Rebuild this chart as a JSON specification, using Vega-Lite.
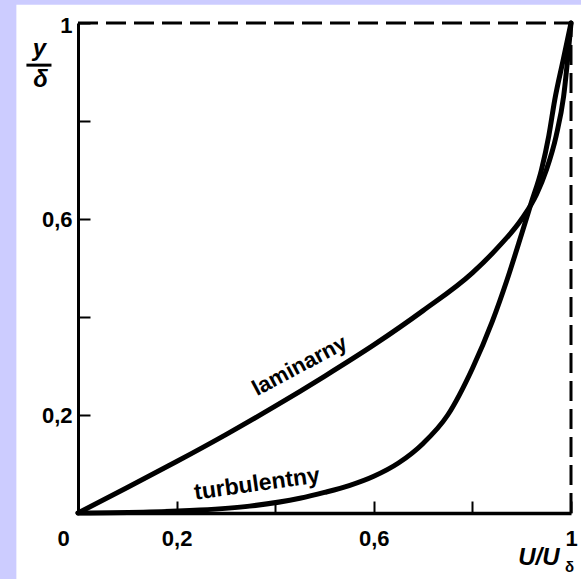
{
  "$schema": "https://vega.github.io/schema/vega-lite/v6.json",
  "width": 493,
  "height": 490,
  "autosize": {"type": "none"},
  "padding": {"left": 78, "top": 23, "right": 10, "bottom": 66},
  "background": "#ccccff",
  "view": {"stroke": null},
  "config": {"text": {"font": "Liberation Sans", "fontWeight": "bold", "color": "#000"}},
  "encoding": {
    "x": {
      "field": "u", "type": "quantitative",
      "scale": {"domain": [0, 1], "nice": false, "zero": false},
      "axis": {
        "title": null, "grid": false, "zindex": 1,
        "values": [0, 0.2, 0.4, 0.6, 0.8, 1],
        "format": ".1~f",
        "labelExpr": "datum.value == 0.4 || datum.value == 0.8 ? '' : replace(datum.label, '.', ',')",
        "labelOffset": {"condition": {"test": "datum.value == 0", "value": -15}, "value": 0},
        "tickSize": -12, "tickWidth": 2, "tickColor": "#000",
        "domainWidth": 3.5, "domainColor": "#000",
        "labelFont": "Liberation Sans", "labelFontWeight": "bold", "labelFontSize": 22,
        "labelColor": "#000", "labelPadding": 27, "labelFlush": false, "labelOverlap": false
      }
    },
    "y": {
      "field": "y", "type": "quantitative",
      "scale": {"domain": [0, 1], "nice": false, "zero": false},
      "axis": {
        "title": null, "grid": false, "zindex": 1,
        "values": [0, 0.2, 0.4, 0.6, 0.8, 1],
        "format": ".1~f",
        "labelExpr": "datum.value == 0.2 || datum.value == 0.6 || datum.value == 1 ? replace(datum.label, '.', ',') : ''",
        "labelOffset": {"condition": {"test": "datum.value == 1", "value": 2}, "value": 0},
        "tickSize": -12, "tickWidth": 2, "tickColor": "#000",
        "domainWidth": 3, "domainColor": "#000",
        "labelFont": "Liberation Sans", "labelFontWeight": "bold", "labelFontSize": 22,
        "labelColor": "#000", "labelPadding": 18, "labelFlush": false, "labelOverlap": false
      }
    }
  },
  "layer": [
    {
      "data": {"values": [{"u": -0.125, "y": -0.135, "u2": 1.021, "y2": 1.037}]},
      "mark": {"type": "rect", "fill": "#ffffff", "stroke": null},
      "encoding": {"x2": {"field": "u2"}, "y2": {"field": "y2"}}
    },
    {
      "data": {"values": [{"u": 0, "y": 1, "u2": 1, "y2": 1}, {"u": 1, "y": 0, "u2": 1, "y2": 1}]},
      "mark": {"type": "rule", "color": "#000", "strokeWidth": 3, "strokeDash": [20, 8]},
      "encoding": {"x2": {"field": "u2"}, "y2": {"field": "y2"}}
    },
    {
      "data": {"values": [
        {"series": "laminarny", "u": 0, "y": 0},
        {"series": "laminarny", "u": 0.1, "y": 0.052},
        {"series": "laminarny", "u": 0.2, "y": 0.105},
        {"series": "laminarny", "u": 0.3, "y": 0.16},
        {"series": "laminarny", "u": 0.4, "y": 0.218},
        {"series": "laminarny", "u": 0.5, "y": 0.279},
        {"series": "laminarny", "u": 0.6, "y": 0.343},
        {"series": "laminarny", "u": 0.7, "y": 0.413},
        {"series": "laminarny", "u": 0.8, "y": 0.49},
        {"series": "laminarny", "u": 0.85, "y": 0.54},
        {"series": "laminarny", "u": 0.9, "y": 0.6},
        {"series": "laminarny", "u": 0.93, "y": 0.65},
        {"series": "laminarny", "u": 0.95, "y": 0.7},
        {"series": "laminarny", "u": 0.97, "y": 0.77},
        {"series": "laminarny", "u": 0.985, "y": 0.85},
        {"series": "laminarny", "u": 1, "y": 1},
        {"series": "turbulentny", "u": 0, "y": 0},
        {"series": "turbulentny", "u": 0.145, "y": 0.002},
        {"series": "turbulentny", "u": 0.247, "y": 0.006},
        {"series": "turbulentny", "u": 0.348, "y": 0.014},
        {"series": "turbulentny", "u": 0.45, "y": 0.03},
        {"series": "turbulentny", "u": 0.5, "y": 0.042},
        {"series": "turbulentny", "u": 0.55, "y": 0.056},
        {"series": "turbulentny", "u": 0.6, "y": 0.075},
        {"series": "turbulentny", "u": 0.65, "y": 0.102},
        {"series": "turbulentny", "u": 0.7, "y": 0.142},
        {"series": "turbulentny", "u": 0.75, "y": 0.2},
        {"series": "turbulentny", "u": 0.8, "y": 0.295},
        {"series": "turbulentny", "u": 0.84, "y": 0.39},
        {"series": "turbulentny", "u": 0.87, "y": 0.475},
        {"series": "turbulentny", "u": 0.9, "y": 0.57},
        {"series": "turbulentny", "u": 0.92, "y": 0.635},
        {"series": "turbulentny", "u": 0.94, "y": 0.7},
        {"series": "turbulentny", "u": 0.955, "y": 0.77},
        {"series": "turbulentny", "u": 0.967, "y": 0.843},
        {"series": "turbulentny", "u": 0.984, "y": 0.924},
        {"series": "turbulentny", "u": 1, "y": 1}
      ]},
      "mark": {"type": "line", "color": "#000", "strokeWidth": 5, "interpolate": "monotone", "strokeCap": "round", "strokeJoin": "round"},
      "encoding": {"detail": {"field": "series"}, "order": {"field": "u", "type": "quantitative"}}
    },
    {
      "data": {"values": [{"u": 0.456, "y": 0.288, "t": "laminarny"}]},
      "mark": {"type": "text", "fontSize": 22, "angle": -28, "align": "center", "baseline": "alphabetic"},
      "encoding": {"text": {"field": "t"}}
    },
    {
      "data": {"values": [{"u": 0.365, "y": 0.045, "t": "turbulentny"}]},
      "mark": {"type": "text", "fontSize": 23, "angle": -8, "align": "center", "baseline": "alphabetic"},
      "encoding": {"text": {"field": "t"}}
    },
    {
      "data": {"values": [{"u": -0.078, "y": 0.933, "t": "y"}, {"u": -0.076, "y": 0.869, "t": "δ"}, {"u": 0.935, "y": -0.106, "t": "U/U"}]},
      "mark": {"type": "text", "fontSize": 24, "fontStyle": "italic", "align": "center", "baseline": "alphabetic"},
      "encoding": {"text": {"field": "t"}}
    },
    {
      "data": {"values": [{"u": 0.997, "y": -0.12, "t": "δ"}]},
      "mark": {"type": "text", "fontSize": 15, "align": "center", "baseline": "alphabetic"},
      "encoding": {"text": {"field": "t"}}
    },
    {
      "data": {"values": [{"u": -0.1046, "y": 0.914, "u2": -0.0538}]},
      "mark": {"type": "rule", "color": "#000", "strokeWidth": 3},
      "encoding": {"x2": {"field": "u2"}}
    }
  ]
}
